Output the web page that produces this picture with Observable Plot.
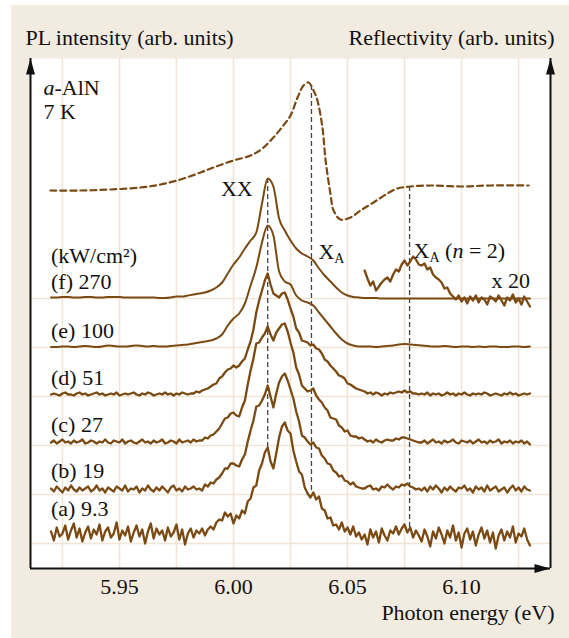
<!DOCTYPE html>
<html><head><meta charset="utf-8">
<script src="https://cdn.jsdelivr.net/npm/d3@7"></script>
<script src="https://cdn.jsdelivr.net/npm/@observablehq/plot@0.6"></script>
<style>
html,body{margin:0;padding:0;background:#fff;}
#wrap{position:relative;width:569px;height:638px;overflow:hidden;}
#panel{position:absolute;left:11px;top:5px;width:558px;height:633px;background:#f2ebe0;}
#chart{position:absolute;left:0;top:0;}
</style></head><body>
<div id="wrap"><div id="panel"></div><div id="chart"></div></div>
<script>
// ---- data ----
// sampling grids (eV): smooth spectra every 2.5 meV, noisy spectra every 1.25 meV
const energyStart = 5.92;
const coarseStep = 0.0025, coarseN = 85;
const fineStep = 0.00125, fineN = 169;
const coarseEnergies = d3.range(coarseN).map(i => +(energyStart + i * coarseStep).toFixed(5));
const fineEnergies = d3.range(fineN).map(i => +(energyStart + i * fineStep).toFixed(5));

const seriesKeys = ["a", "b", "c", "d", "e", "f"];
const powerLabels = ["(a) 9.3", "(b) 19", "(c) 27", "(d) 51", "(e) 100", "(f) 270"];
const offsets = [25, 74, 123, 172, 221, 270];

// noisy spectra (fine grid, 169 samples)
const plA = [12,3,16,7,10,18,4,13,20,6, 15,2,11,17,5,14,9,19,3,12, 16,6,10,21,4,13,8,17,2,11,
  18,7,14,0,12,20,5,15,9,13, 3,16,7,11,19,4,14,-1,10,15,
  6,13,10,15,8,14,17,14,21,24, 23,31,27,30,20,28,25,33,30,42,
  45,56,58,73,80,91,96,82,75,90, 106,117,121,113,110,93,82,72,69,56,
  50,46,51,44,47,35,33,25,26,18, 19,14,21,12,16,9,17,7,11,4,
  9,-1,14,6,12,1,15,8,3,13, 10,17,9,15,19,11,16,6,13,8,
  2,14,7,-3,12,5,16,9,0,13, 6,18,3,11,-4,10,15,4,12,-2, 9,16,5,13,1,11,-5,8,14,3, 12,6,17,1,10,7,15,4,-2];
const plB = [6,3,8,5,2,7,4,9,5,3, 7,4,6,8,3,5,9,4,6,2, 7,5,3,8,6,4,9,3,6,5,
  8,2,6,4,9,5,3,7,4,8, 5,2,7,9,4,6,3,8,5,6,
  8,5,6,4,10,8,12,11,15,17, 21,26,26,31,31,29,28,35,40,53,
  64,74,88,89,94,100,109,98,87,101, 112,118,121,114,105,96,83,73,59,57,
  53,50,52,47,46,39,36,31,30,24, 22,18,19,14,13,10,12,8,7,6,
  6,8,9,5,6,4,8,7,10,7, 5,8,7,10,9,11,8,7,5,6,
  4,7,3,8,5,9,6,2,7,4, 8,5,3,7,6,9,4,6,2,8, 5,7,3,9,4,6,8,3,5,7, 2,6,9,4,7,3,8,5,4];
const plC = [3,5,2,4,6,3,4,2,5,3, 4,6,2,3,5,4,2,4,3,6, 3,2,5,4,3,6,2,4,5,3,
  2,4,6,3,4,2,5,3,4,6, 2,3,5,4,2,6,3,4,5,3,
  6,4,5,5,8,7,10,11,14,17, 22,27,28,32,33,30,29,38,45,61,
  75,87,102,103,108,112,119,111,105,113, 117,121,122,114,103,93,78,71,60,57,
  54,55,57,50,46,43,38,35,28,27, 26,20,18,14,15,10,9,9,7,8,
  6,4,5,3,6,4,3,5,6,5, 5,7,6,8,8,7,6,5,4,3,
  3,5,2,4,6,3,4,2,5,3, 4,6,3,2,5,4,3,5,2,4, 6,3,4,2,5,3,4,6,2,4, 3,5,2,4,3,5,2,4,1];
const plD = [2,3,2,1,3,4,2,2,1,3, 4,2,3,1,2,3,4,2,3,1, 2,3,2,4,1,2,3,2,3,4,
  2,1,3,2,4,3,1,2,3,2, 4,2,3,1,3,2,4,3,2,3,
  3,5,4,6,7,8,10,12,13,18, 20,24,27,28,31,29,31,35,38,47,
  55,67,84,96,106,116,123,112,103,101, 99,103,104,97,88,80,68,64,56,55,
  54,51,52,48,47,43,37,35,31,28, 25,21,20,18,13,12,10,8,7,6,
  5,3,4,2,4,3,1,3,2,4, 3,4,5,4,6,4,5,3,3,2,
  3,2,4,1,3,2,3,1,2,4, 2,3,1,3,2,4,2,1,3,2, 3,2,4,3,1,2,3,2,1,3, 2,4,2,3,1,2,3,2,3];
// smooth spectra (coarse grid, 85 samples)
const plE = [0.5,0.5,1,1,0.5,1,1.5,1,0.5,1,2,1.5,1,1,1.5,2,1.5,1,1.5,1,1,1.5,2,2.5,3,
  4,5,6,7,9,13,22,29,34,44,62,80,105,122,112,76,66,63,52,47,45,42,35,28,21,14,8,4,2,1,
  1,1,0.5,1,1.5,2,3,3.5,3,2.5,2,1.5,1,1,1.5,1,0.5,1,1,0.5,1,0.5,1,1,0.5,0.5,1,1,0.5,1];
const plF = [1,1,1.5,1.5,1,1,1.5,1.5,1,1,1.5,1.5,1.5,1,1,1,1,1,1,0.5,0.5,1,2,2,3,
  4,5,6,8,11,16,25,34,41,50,58,66,95,120,112,80,68,58,50,45,42,38,30,23,17,11,6,3,1.5,1,
  0.5,0.5,0.5,0,0,0,0,0,0,0,0,0,0,0,0,0,0,0,0,0,0,0,0,0,0,0,0,0,0,0];
// (f) magnified x 20 part, fine grid from sample 110 on
const x20StartIndex = 110;
const plFx20 = [28,20,13,17,8,12,16,19,21,17, 24,29,27,34,38,33,37,42,39,34,
  33,35,29,31,24,21,19,16,10,11, 5,2,-1,3,-3,1,-5,2,-2,3,
  -4,1,-1,-6,2,0,-3,3,-2,-7, 1,-2,4,-4,0,-6,2,-3,-8];

const reflEnergy = [5.9197,5.9329,5.9461,5.9592,5.9680,5.9768,5.9855,5.9912,6.0000,6.0075,6.0127,6.0175,
  6.0219,6.0250,6.0281,6.0307,6.0329,6.0351,6.0368,6.0390,6.0404,6.0425,6.0439,6.0469,6.0513,6.0557,
  6.0614,6.0675,6.0719,6.0776,6.0864,6.0996,6.1127,6.1294];
const reflValue = [378,378,379,381,384,389,396,401,408,413,420,431,443,453,471,483,486,478,468,441,
  408,375,358,349,351,358,366,375,380,382,383,382,383,383];

const tickValues = [5.95, 6.00, 6.05, 6.10];
const gridValues = [5.925, 5.95, 5.975, 6.0, 6.025, 6.05, 6.075, 6.1, 6.125];
const markerEnergy = [6.015, 6.0342, 6.0772];
const markerLow = [121, 78, 41];
const markerHigh = [390, 482, 382];

// ---- build tables ----
const plSeries = [plA, plB, plC, plD, plE, plF];
const noisyRows = [], smoothRows = [];
plSeries.forEach((vals, k) => {
  const grid = k >= 4 ? coarseEnergies : fineEnergies;
  vals.forEach((v, i) => {
    const row = {E: grid[i], I: offsets[k] + v, s: seriesKeys[k]};
    (k >= 4 ? smoothRows : noisyRows).push(row);
  });
});
const x20Rows = plFx20.map((v, j) => ({E: fineEnergies[x20StartIndex + j], I: offsets[5] + v}));
const reflRows = reflEnergy.map((e, i) => ({E: e, R: reflValue[i]}));
const markerRows = markerEnergy.map((e, i) => ({E: e, lo: markerLow[i], hi: markerHigh[i]}));
const labelRows = plSeries.map((vals, k) => {
  const n = k >= 4 ? 10 : 20;
  return {text: powerLabels[k], y: offsets[k] + d3.max(vals.slice(0, n)) + 8};
});
const unitsY = labelRows[5].y + 26;

const xDomain = [5.911, 6.139];
const yDomain = [0, 510];
const brown = "#7a4a12";
const gridColor = "#f1e6d6";
const ink = "#111";
const FS = 22;

const arrowHead = {
  draw(ctx, l) { ctx.moveTo(0, -l); ctx.lineTo(-4.5, -l + 16); ctx.lineTo(4.5, -l + 16); ctx.closePath(); }
};
const arrowRows = [
  {x: xDomain[0], y: yDomain[1], r: 0},
  {x: xDomain[1], y: yDomain[1], r: 0},
  {x: xDomain[1], y: yDomain[0], r: 90}
];

const annotations = [
  {E: 6.015, y: 373, text: "XX", dx: -15, anchor: "end"},
  {E: 6.0342, y: 310, text: "XA", dx: 7, anchor: "start"},
  {E: 6.0772, y: 311, text: "XA (n = 2)", dx: 4, anchor: "start"},
  {E: 6.13, y: 281, text: "x 20", dx: 0, anchor: "end"}
];

const chart = Plot.plot({
  width: 569, height: 638,
  marginLeft: 30, marginRight: 19, marginTop: 58, marginBottom: 70,
  x: {domain: xDomain, axis: null},
  y: {domain: yDomain, axis: null},
  style: {fontFamily: "'Liberation Serif', 'Times New Roman', serif", fontSize: FS + "px", color: ink, background: "transparent", overflow: "visible"},
  marks: [
    Plot.frame({fill: "white", stroke: null}),
    Plot.ruleX(gridValues, {stroke: gridColor, strokeWidth: 1.6}),
    Plot.ruleY(offsets, {stroke: gridColor, strokeWidth: 1.6}),
    Plot.ruleX(markerRows, {x: "E", y1: "lo", y2: "hi", stroke: "#444", strokeWidth: 1.3, strokeDasharray: "5,3"}),
    Plot.line(reflRows, {x: "E", y: "R", stroke: brown, strokeWidth: 2.2, strokeDasharray: "6,4", curve: "catmull-rom"}),
    Plot.line(smoothRows, {x: "E", y: "I", z: "s", stroke: brown, strokeWidth: 2, curve: "monotone-x"}),
    Plot.line(noisyRows, {x: "E", y: "I", z: "s", stroke: brown, strokeWidth: 2.3, strokeLinejoin: "round"}),
    Plot.line(x20Rows, {x: "E", y: "I", stroke: brown, strokeWidth: 2.3, strokeLinejoin: "round"}),
    // axes
    Plot.ruleX([xDomain[0], xDomain[1]], {stroke: ink, strokeWidth: 2}),
    Plot.ruleY([yDomain[0]], {stroke: ink, strokeWidth: 2}),
    Plot.vector(arrowRows, {x: "x", y: "y", rotate: "r", length: 16, anchor: "end", shape: arrowHead, fill: ink, stroke: "none"}),
    Plot.axisX(tickValues, {tickSize: 0, tickPadding: 10, tickFormat: d => d.toFixed(2), label: null, fontSize: FS}),
    // text
    Plot.text(["PL intensity (arb. units)"], {frameAnchor: "top-left", text: d => d, dx: -5, dy: -14, textAnchor: "start", lineAnchor: "bottom", fontSize: FS}),
    Plot.text(["Reflectivity (arb. units)"], {frameAnchor: "top-right", text: d => d, dx: 4, dy: -14, textAnchor: "end", lineAnchor: "bottom", fontSize: FS}),
    Plot.text(["Photon energy (eV)"], {frameAnchor: "bottom-right", text: d => d, dx: 4, dy: 51, textAnchor: "end", lineAnchor: "bottom", fontSize: FS}),
    Plot.text(["a-AlN"], {frameAnchor: "top-left", text: d => d, dx: 13, dy: 36, textAnchor: "start", lineAnchor: "bottom", fontSize: FS}),
    Plot.text(["7 K"], {frameAnchor: "top-left", text: d => d, dx: 13, dy: 60, textAnchor: "start", lineAnchor: "bottom", fontSize: FS}),
    Plot.text(labelRows, {x: energyStart, y: "y", text: "text", textAnchor: "start", lineAnchor: "bottom", fontSize: FS}),
    Plot.text(["(kW/cm²)"], {x: energyStart, y: unitsY, text: d => d, textAnchor: "start", lineAnchor: "bottom", fontSize: FS}),
    Plot.text(annotations.filter(d => d.anchor === "end"), {x: "E", y: "y", text: "text", textAnchor: "end", lineAnchor: "bottom", fontSize: FS}),
    Plot.text(annotations.filter(d => d.anchor === "start"), {x: "E", y: "y", text: "text", textAnchor: "start", lineAnchor: "bottom", fontSize: FS})
  ]
});
document.getElementById("chart").appendChild(chart);

// nudge annotations horizontally and build rich text (italics / subscripts)
const svg = d3.select(chart);
const richText = {
  "a-AlN": [["a", "italic"], ["-AlN"]],
  "XA": [["X"], ["A", "sub"]],
  "XA (n = 2)": [["X"], ["A", "sub"], [" ("], ["n", "italic"], [" = 2)"]]
};
const nudge = Object.fromEntries(annotations.map(a => [a.text, a.dx]));
svg.selectAll("text").each(function () {
  const t = this.textContent;
  if (nudge[t] !== undefined && nudge[t] !== 0) {
    const tr = this.getAttribute("transform") || "";
    this.setAttribute("transform", tr + ` translate(${nudge[t]},0)`);
  }
  const parts = richText[t];
  if (!parts) return;
  this.textContent = "";
  this.setAttribute("style", "white-space: pre");
  const sel = d3.select(this);
  let shifted = false;
  for (const [s, kind] of parts) {
    const ts = sel.append("tspan").text(s);
    if (kind === "italic") ts.attr("font-style", "italic");
    if (kind === "sub") { ts.attr("font-size", 14).attr("dy", 4); shifted = true; }
    else if (shifted) { ts.attr("dy", -4); shifted = false; }
  }
});
</script></body></html>
